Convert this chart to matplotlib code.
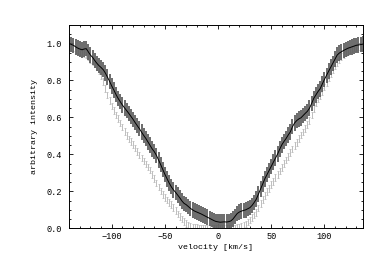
import numpy as np
from matplotlib import pyplot as plt
from matplotlib.ticker import MultipleLocator

plt.rcParams['font.family'] = ['Liberation Mono', 'DejaVu Sans Mono']

# velocity grid (km/s), 2 km/s steps
velocity = np.arange(-140, 141, 2)

# dark profile (black line, dark grey error bars)
dark = [
    1.000, 0.995, 0.990, 0.982, 0.975, 0.970, 0.966, 0.970, 0.972, 0.955,
    0.937, 0.925, 0.908, 0.893, 0.880, 0.870, 0.858, 0.840, 0.818, 0.795,
    0.770, 0.748, 0.724, 0.703, 0.685, 0.667, 0.652, 0.637, 0.622, 0.606,
    0.590, 0.572, 0.556, 0.539, 0.521, 0.503, 0.487, 0.468, 0.450, 0.430,
    0.415, 0.395, 0.370, 0.345, 0.318, 0.292, 0.268, 0.245, 0.225, 0.208,
    0.195, 0.180, 0.165, 0.148, 0.135, 0.128, 0.118, 0.108, 0.100, 0.093,
    0.088, 0.083, 0.078, 0.072, 0.066, 0.060, 0.054, 0.048, 0.042, 0.037,
    0.035, 0.033, 0.034, 0.035, 0.034, 0.036, 0.040, 0.050, 0.065, 0.080,
    0.088, 0.093, 0.097, 0.100, 0.106, 0.112, 0.124, 0.140, 0.158, 0.185,
    0.212, 0.240, 0.268, 0.290, 0.312, 0.335, 0.358, 0.380, 0.402, 0.428,
    0.452, 0.470, 0.486, 0.505, 0.522, 0.550, 0.570, 0.583, 0.592, 0.598,
    0.610, 0.622, 0.633, 0.650, 0.675, 0.703, 0.722, 0.740, 0.755, 0.780,
    0.805, 0.828, 0.850, 0.872, 0.893, 0.915, 0.937, 0.948, 0.955, 0.962,
    0.968, 0.974, 0.978, 0.982, 0.986, 0.990, 0.992, 0.994, 0.996, 0.997,
    0.998,
]
dark_err = 0.042

# light profile (light grey error bars)
light = [
    0.985, 0.980, 0.975, 0.968, 0.962, 0.955, 0.950, 0.945, 0.938, 0.928,
    0.915, 0.903, 0.890, 0.872, 0.852, 0.828, 0.796, 0.758, 0.722, 0.690,
    0.662, 0.638, 0.614, 0.593, 0.570, 0.548, 0.525, 0.503, 0.484, 0.468,
    0.452, 0.434, 0.416, 0.396, 0.380, 0.364, 0.348, 0.332, 0.315, 0.292,
    0.268, 0.245, 0.224, 0.202, 0.184, 0.168, 0.154, 0.141, 0.128, 0.112,
    0.095, 0.078, 0.064, 0.050, 0.038, 0.026, 0.016, 0.010, 0.006, 0.004,
    0.003, 0.002, 0.002, 0.001, 0.001, 0.000, 0.000, 0.000, 0.000, 0.000,
    0.000, 0.000, 0.000, 0.000, 0.000, 0.001, 0.001, 0.002, 0.002, 0.003,
    0.006, 0.010, 0.016, 0.024, 0.034, 0.045, 0.058, 0.072, 0.087, 0.110,
    0.135, 0.157, 0.178, 0.198, 0.217, 0.236, 0.255, 0.274, 0.292, 0.310,
    0.330, 0.350, 0.370, 0.390, 0.410, 0.429, 0.448, 0.466, 0.485, 0.504,
    0.522, 0.540, 0.560, 0.584, 0.614, 0.648, 0.678, 0.700, 0.718, 0.740,
    0.765, 0.790, 0.815, 0.838, 0.860, 0.880, 0.898, 0.915, 0.928, 0.940,
    0.950, 0.958, 0.964, 0.970, 0.975, 0.978, 0.982, 0.984, 0.986, 0.987,
    0.988,
]
light_err = 0.018

fig = plt.figure(figsize=(3.74, 2.73), dpi=100)
ax = fig.add_axes([0.1845, 0.1637, 0.786, 0.7447])

# light profile first so the dark one sits on top
ax.errorbar(velocity, light, yerr=light_err, fmt='none', ecolor='#bdbdbd',
            elinewidth=0.7, capsize=1.0, capthick=0.6)
ax.errorbar(velocity, dark, yerr=dark_err, fmt='none', ecolor='#5a5a5a',
            elinewidth=1.25)
ax.plot(velocity, dark, color='black', lw=0.7)

ax.set_xlim(-140.2, 136.3)
ax.set_ylim(0, 1.1)

ax.xaxis.set_major_locator(MultipleLocator(50))
ax.xaxis.set_minor_locator(MultipleLocator(10))
ax.yaxis.set_major_locator(MultipleLocator(0.2))
ax.yaxis.set_minor_locator(MultipleLocator(0.05))
ax.yaxis.set_major_formatter(plt.FormatStrFormatter('%.1f'))

ax.tick_params(which='both', direction='in', top=True, right=True,
               width=0.6, labelsize=6.2)
ax.tick_params(which='major', length=3.2)
ax.tick_params(which='minor', length=1.7)
ax.tick_params(axis='x', pad=3)
ax.tick_params(axis='y', pad=5)
for s in ax.spines.values():
    s.set_linewidth(0.7)

ax.set_xlabel('velocity [km/s]', fontsize=6, labelpad=2)
ax.set_ylabel('arbitrary intensity', fontsize=6, labelpad=6)

plt.savefig('out.png', dpi=100)
